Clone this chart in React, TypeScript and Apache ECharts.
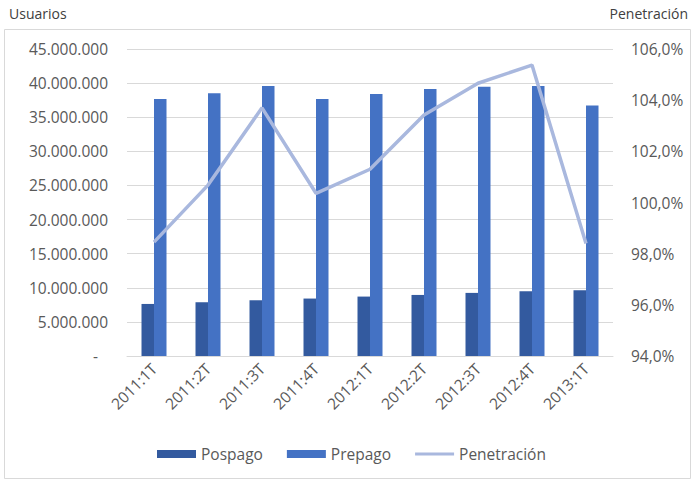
import React, { useEffect, useRef } from "react";
import * as echarts from "echarts";

const categories = ["2011:1T", "2011:2T", "2011:3T", "2011:4T", "2012:1T", "2012:2T", "2012:3T", "2012:4T", "2013:1T"];
const pospago = [7630000, 7880000, 8170000, 8420000, 8710000, 8950000, 9250000, 9490000, 9640000];
const prepago = [37660000, 38500000, 39570000, 37660000, 38400000, 39130000, 39470000, 39570000, 36730000];
const penetracion = [98.45, 100.68, 103.7, 100.36, 101.3, 103.42, 104.66, 105.37, 98.4];

const FONT = "'Open Sans', 'Noto Sans', sans-serif";
const GRAY = "#595959";
const FS = 15.5;

function fmtMiles(v: number): string {
  if (v === 0) return "{d|-}";
  return Math.round(v).toString().replace(/\B(?=(\d{3})+(?!\d))/g, ".");
}

export default function App() {
  const ref = useRef<HTMLDivElement>(null);
  useEffect(() => {
    if (!ref.current) return;
    const chart = echarts.init(ref.current, undefined, { renderer: "svg" });
    chart.setOption({
      animation: false,
      backgroundColor: "#ffffff",
      textStyle: { fontFamily: FONT },
      graphic: [
        {
          type: "rect",
          shape: { x: 4.5, y: 29.5, width: 686, height: 449 },
          style: { fill: "none", stroke: "#d9d9d9", lineWidth: 1 },
          silent: true,
        },
        {
          type: "text",
          left: 9,
          top: 6,
          style: { text: "Usuarios", fill: "#404040", font: `14px ${FONT}` },
        },
        {
          type: "text",
          right: 7,
          top: 6,
          style: { text: "Penetración", fill: "#404040", font: `14px ${FONT}` },
        },
      ],
      legend: {
        left: 152,
        top: 441,
        itemWidth: 39,
        itemHeight: 8,
        itemGap: 24,
        textStyle: { color: GRAY, fontSize: 15.5, fontFamily: FONT },
        data: [
          { name: "Pospago", icon: "rect" },
          { name: "Prepago", icon: "rect" },
          { name: "Penetración", icon: "path://M0,0 L39,0 L39,3 L0,3 Z" },
        ],
      },
      grid: { left: 127, right: 82, top: 49, bottom: 125 },
      xAxis: {
        type: "category",
        data: categories,
        axisLine: { lineStyle: { color: "#d9d9d9" } },
        axisTick: { show: false },
        axisLabel: { rotate: 45, color: GRAY, fontSize: FS, fontFamily: FONT, margin: 10 },
      },
      yAxis: [
        {
          type: "value",
          min: 0,
          max: 45000000,
          interval: 5000000,
          axisLine: { show: false },
          axisTick: { show: false },
          splitLine: { lineStyle: { color: "#d9d9d9" } },
          axisLabel: {
            color: GRAY,
            fontSize: FS,
            fontFamily: FONT,
            margin: 19,
            formatter: fmtMiles,
            rich: { d: { color: GRAY, fontSize: FS, padding: [0, 10, 0, 0] } },
          },
        },
        {
          type: "value",
          min: 94,
          max: 106,
          interval: 2,
          axisLine: { show: false },
          axisTick: { show: false },
          splitLine: { show: false },
          axisLabel: {
            color: GRAY,
            fontSize: FS,
            fontFamily: FONT,
            margin: 18,
            formatter: (v: number) => v.toFixed(1).replace(".", ",") + "%",
          },
        },
      ],
      series: [
        {
          name: "Pospago",
          type: "bar",
          data: pospago,
          barWidth: 12.5,
          barGap: "0%",
          itemStyle: { color: "#335a9f" },
        },
        {
          name: "Prepago",
          type: "bar",
          data: prepago,
          barWidth: 12.5,
          barGap: "0%",
          itemStyle: { color: "#4472c4" },
        },
        {
          name: "Penetración",
          type: "line",
          yAxisIndex: 1,
          data: penetracion,
          symbol: "none",
          lineStyle: { color: "#a9b8de", width: 3.5 },
          itemStyle: { color: "#a9b8de" },
        },
      ],
    });
    return () => chart.dispose();
  }, []);
  return (
    <div
      ref={ref}
      style={{ position: "fixed", left: 0, top: 0, width: 695, height: 481 }}
    />
  );
}
